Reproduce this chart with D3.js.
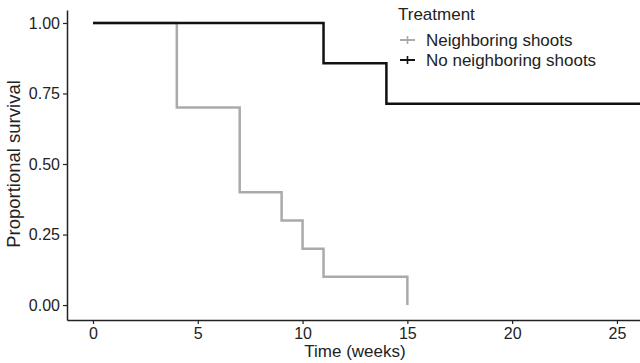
<!DOCTYPE html>
<html>
<head>
<meta charset="utf-8">
<script src="https://cdn.jsdelivr.net/npm/d3@7"></script>
<style>
  body { margin: 0; background: #fff; }
  svg { font-family: "Liberation Sans", Arial, sans-serif; }
</style>
</head>
<body>
<svg id="chart" width="640" height="363"></svg>
<script>
// Survival steps
var neighTimes = [0, 4, 7, 9, 10, 11, 15];
var neighSurv = [1.0, 0.7, 0.4, 0.3, 0.2, 0.1, 0.0];
var noNeighTimes = [0, 11, 14, 26.5];
var noNeighSurv = [1.0, 0.857, 0.714, 0.714];
var xTicks = [0, 5, 10, 15, 20, 25];
var yTicks = [0, 0.25, 0.5, 0.75, 1.0];
var seriesNames = ["Neighboring shoots", "No neighboring shoots"];
var seriesColors = ["#aaaaaa", "#111111"];

var width = 640, height = 363;
var margin = { top: 10, right: 0, bottom: 43, left: 67 };

var svg = d3.select("#chart");

var x = d3.scaleLinear()
    .domain([-1.24, 26.1])
    .range([margin.left, width - margin.right]);
var y = d3.scaleLinear()
    .domain([-0.053, 1.046])
    .range([height - margin.bottom, margin.top]);

function stepData(times, surv) {
    return times.map(function(t, i) { return { t: t, s: surv[i] }; });
}

var line = d3.line()
    .x(function(d) { return x(d.t); })
    .y(function(d) { return y(d.s); })
    .curve(d3.curveStepAfter);

var plot = svg.append("g");

// grey first, black on top
plot.append("path")
    .datum(stepData(neighTimes, neighSurv))
    .attr("fill", "none")
    .attr("stroke", seriesColors[0])
    .attr("stroke-width", 2.5)
    .attr("d", line);

plot.append("path")
    .datum(stepData(noNeighTimes, noNeighSurv))
    .attr("fill", "none")
    .attr("stroke", seriesColors[1])
    .attr("stroke-width", 2.5)
    .attr("d", line);

// Axes
var xAxis = d3.axisBottom(x).tickValues(xTicks).tickSizeInner(4).tickSizeOuter(0).tickPadding(4);
var gx = svg.append("g")
    .attr("transform", "translate(0," + (height - margin.bottom) + ")")
    .call(xAxis);

var yAxis = d3.axisLeft(y).tickValues(yTicks).tickSizeInner(4).tickSizeOuter(0).tickPadding(3)
    .tickFormat(d3.format(".2f"));
var gy = svg.append("g")
    .attr("transform", "translate(" + margin.left + ",0)")
    .call(yAxis);

[gx, gy].forEach(function(g) {
    g.select(".domain").attr("stroke", "#222").attr("stroke-width", 1.5);
    g.selectAll(".tick line").attr("stroke", "#222").attr("stroke-width", 1.2);
    g.selectAll(".tick text")
        .attr("fill", "#222")
        .style("font-size", "16px")
        .style("font-family", "Liberation Sans, Arial, sans-serif");
});

svg.append("text")
    .attr("x", 355)
    .attr("y", 357)
    .attr("text-anchor", "middle")
    .attr("fill", "#222")
    .style("font-size", "17px")
    .text("Time (weeks)");

svg.append("text")
    .attr("transform", "translate(20," + y(0.5) + ") rotate(-90)")
    .attr("text-anchor", "middle")
    .attr("fill", "#222")
    .style("font-size", "18.5px")
    .text("Proportional survival");

// Legend
var legend = svg.append("g").attr("transform", "translate(398,0)");
legend.append("text")
    .attr("x", 0)
    .attr("y", 20)
    .attr("fill", "#222")
    .style("font-size", "17px")
    .text("Treatment");

seriesNames.forEach(function(name, i) {
    var cy = 40 + i * 20;
    var g = legend.append("g");
    g.append("line")
        .attr("x1", 2).attr("x2", 17).attr("y1", cy).attr("y2", cy)
        .attr("stroke", seriesColors[i]).attr("stroke-width", 2);
    g.append("line")
        .attr("x1", 9.5).attr("x2", 9.5).attr("y1", cy - 4).attr("y2", cy + 4)
        .attr("stroke", seriesColors[i]).attr("stroke-width", 1.6);
    g.append("text")
        .attr("x", 28)
        .attr("y", cy + 6)
        .attr("fill", "#222")
        .style("font-size", "17px")
        .text(name);
});
</script>
</body>
</html>
